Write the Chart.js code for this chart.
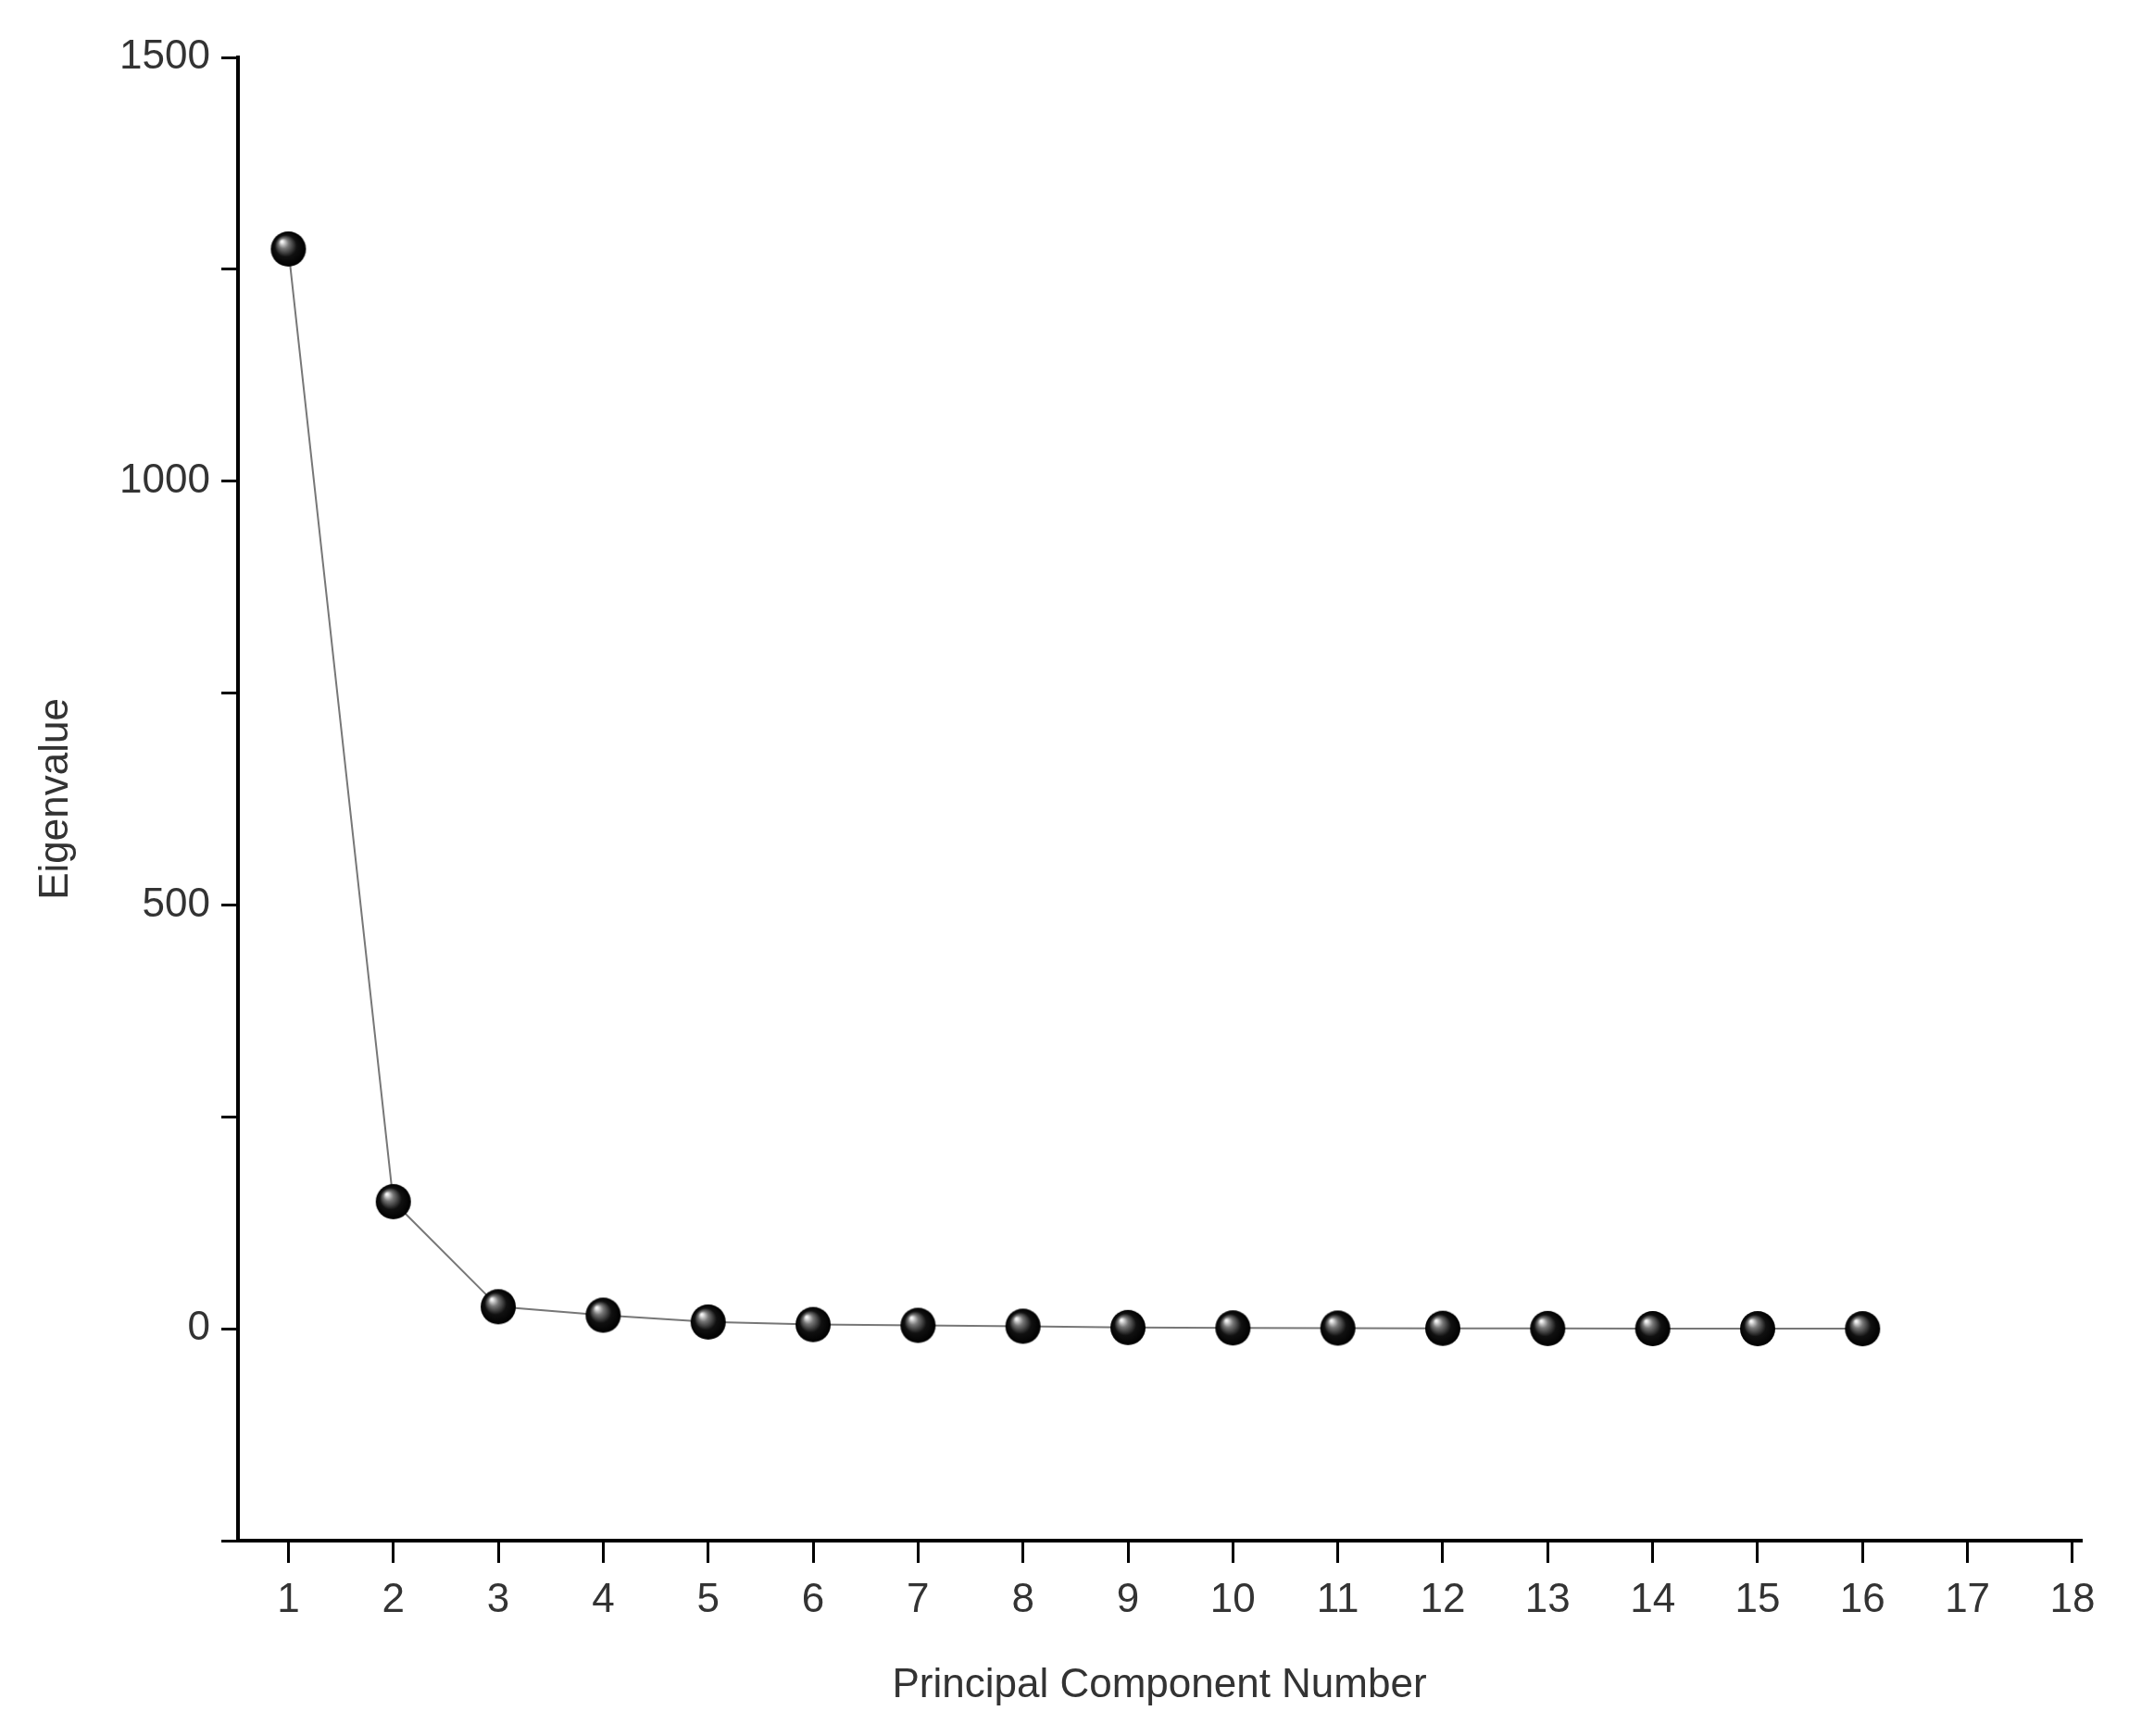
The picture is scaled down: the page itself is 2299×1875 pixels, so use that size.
<!DOCTYPE html>
<html><head><meta charset="utf-8">
<script src="https://cdn.jsdelivr.net/npm/chart.js@4"></script>
<style>html,body{margin:0;padding:0;background:#fff}</style>
</head><body>
<canvas id="c" width="2299" height="1875" style="width:2299px;height:1875px"></canvas>
<script>
const components = [1,2,3,4,5,6,7,8,9,10,11,12,13,14,15,16];
const eigenvalues = [1274,150,26,16,8,5,4,3,1.5,1,0.8,0.5,0.3,0.2,0.1,0.05];
const xTickValues = [1,2,3,4,5,6,7,8,9,10,11,12,13,14,15,16,17,18];
const yLabelValues = [0,500,1000,1500];

// sphere marker
const R = 19;
const sp = document.createElement('canvas');
sp.width = sp.height = 2*R+2;
const g = sp.getContext('2d');
const grad = g.createRadialGradient(R-6, R-7, 1, R+1, R+1, R);
grad.addColorStop(0, '#f4f4f4');
grad.addColorStop(0.25, '#777');
grad.addColorStop(0.6, '#111');
grad.addColorStop(1, '#000');
g.fillStyle = grad;
g.beginPath(); g.arc(R+1, R+1, R, 0, Math.PI*2); g.fill();

const font = {family:'"Liberation Sans", Arial, sans-serif', size:44};
new Chart(document.getElementById('c'), {
  type:'scatter',
  data:{datasets:[{
    data: components.map((c,i)=>({x:c,y:eigenvalues[i]})),
    showLine:true, borderColor:'#777', borderWidth:2,
    pointStyle: sp, pointRadius:R
  }]},
  options:{
    responsive:false, animation:false,
    layout:{padding:{top:62,right:52,left:34,bottom:0}},
    plugins:{legend:{display:false},tooltip:{enabled:false}},
    scales:{
      x:{type:'linear',min:0.52,max:18.08,
        afterBuildTicks:s=>{s.ticks=xTickValues.map(v=>({value:v}));},
        afterFit:s=>{s.height=211;},
        border:{color:'#000',width:4},
        grid:{drawOnChartArea:false,drawTicks:true,tickLength:24,color:'#000',lineWidth:3},
        ticks:{color:'#333',font,padding:14,maxRotation:0,autoSkip:false},
        title:{display:true,text:'Principal Component Number',color:'#333',font,padding:{top:10,bottom:28}}
      },
      y:{min:-250,max:1500,
        afterBuildTicks:s=>{const t=[];for(let v=-250;v<=1500;v+=250)t.push({value:v});s.ticks=t;},
        afterFit:s=>{s.width=223;},
        border:{color:'#000',width:4},
        grid:{drawOnChartArea:false,drawTicks:true,tickLength:18,color:'#000',lineWidth:3},
        ticks:{color:'#333',font,padding:12,autoSkip:false,
          callback:v=>yLabelValues.includes(v)?String(v):''},
        title:{display:true,text:'Eigenvalue',color:'#333',font,padding:{top:0,bottom:10}}
      }
    }
  }
});
</script>
</body></html>
